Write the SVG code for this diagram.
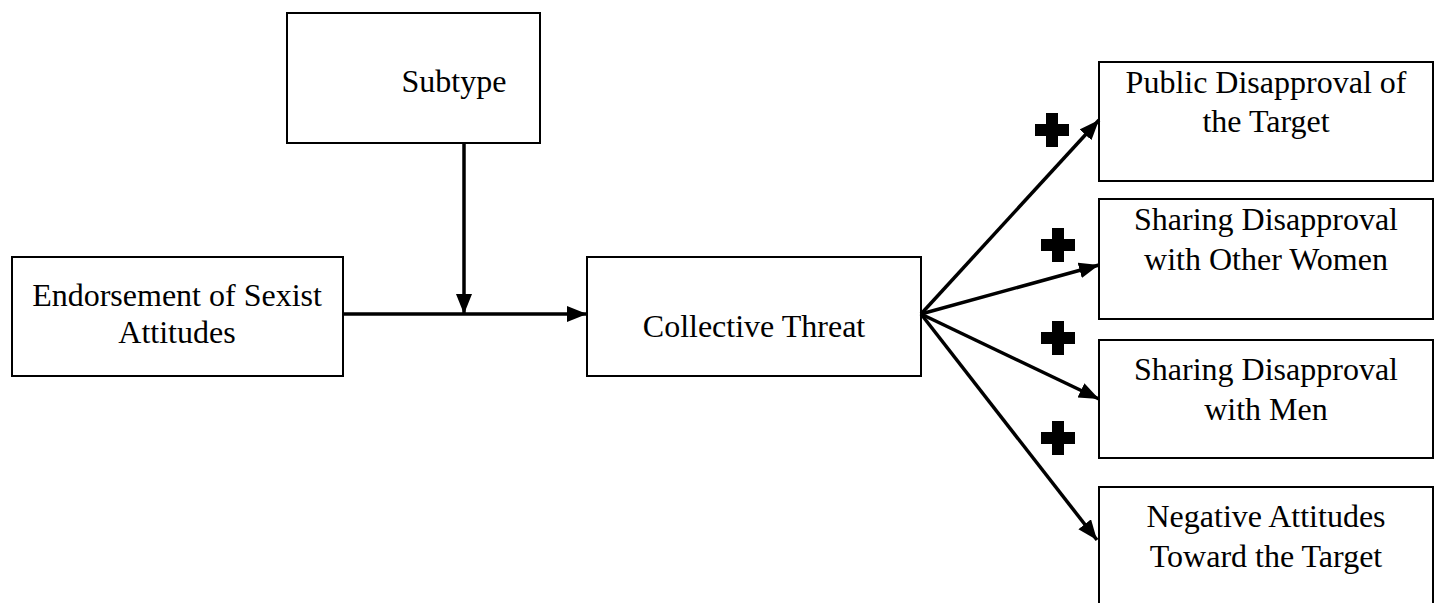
<svg xmlns="http://www.w3.org/2000/svg" width="1440" height="603" viewBox="0 0 1440 603">
<style>
.box{fill:#fff;stroke:#000;stroke-width:2}
text{font-family:'Liberation Serif','Times New Roman','DejaVu Serif',serif;font-size:32px;fill:#000;text-anchor:middle}
.c{stroke:#000;stroke-width:3.5;fill:none;marker-end:url(#ah)}
.plus{fill:#000}
</style>
<defs>
<marker id="ah" markerUnits="userSpaceOnUse" markerWidth="22" markerHeight="18" refX="20" refY="8" orient="auto">
<path d="M0,0 L20,8 L0,16 z" fill="#000"/>
</marker>
<path id="p" d="M-6,-17 H6 V-6 H17 V6 H6 V17 H-6 V6 H-17 V-6 H-6 z"/>
</defs>
<rect width="1440" height="603" fill="#fff"/>
<g id="subtype"><rect class="box" x="287" y="13" width="253" height="130"/><text x="454" y="92" font-family="Liberation Serif, serif">Subtype</text></g>
<g id="endorsement"><rect class="box" x="12" y="257" width="331" height="119"/><text x="177" y="306" font-family="Liberation Serif, serif">Endorsement of Sexist</text><text x="177" y="343" font-family="Liberation Serif, serif">Attitudes</text></g>
<g id="collective"><rect class="box" x="587" y="257" width="334" height="119"/><text x="754" y="337" font-family="Liberation Serif, serif">Collective Threat</text></g>
<g id="public"><rect class="box" x="1099" y="62" width="334" height="119"/><text x="1266" y="93" font-family="Liberation Serif, serif">Public Disapproval of</text><text x="1266" y="132" font-family="Liberation Serif, serif">the Target</text></g>
<g id="women"><rect class="box" x="1099" y="199" width="334" height="120"/><text x="1266" y="230" font-family="Liberation Serif, serif">Sharing Disapproval</text><text x="1266" y="270" font-family="Liberation Serif, serif">with Other Women</text></g>
<g id="men"><rect class="box" x="1099" y="340" width="334" height="118"/><text x="1266" y="380" font-family="Liberation Serif, serif">Sharing Disapproval</text><text x="1266" y="420" font-family="Liberation Serif, serif">with Men</text></g>
<g id="negative"><rect class="box" x="1099" y="487" width="334" height="140"/><text x="1266" y="527" font-family="Liberation Serif, serif">Negative Attitudes</text><text x="1266" y="567" font-family="Liberation Serif, serif">Toward the Target</text></g>
<g id="connectors">
<line class="c" x1="343" y1="314" x2="587" y2="314"/>
<line class="c" x1="464" y1="143" x2="464" y2="314"/>
<line class="c" x1="921" y1="314" x2="1099" y2="120"/>
<line class="c" x1="921" y1="314" x2="1099" y2="265"/>
<line class="c" x1="921" y1="314" x2="1099" y2="399"/>
<line class="c" x1="921" y1="314" x2="1097" y2="540"/>
</g>
<g id="signs" class="plus">
<use href="#p" x="1052" y="130"/>
<use href="#p" x="1058" y="245"/>
<use href="#p" x="1058" y="338"/>
<use href="#p" x="1058" y="438"/>
</g>
</svg>
